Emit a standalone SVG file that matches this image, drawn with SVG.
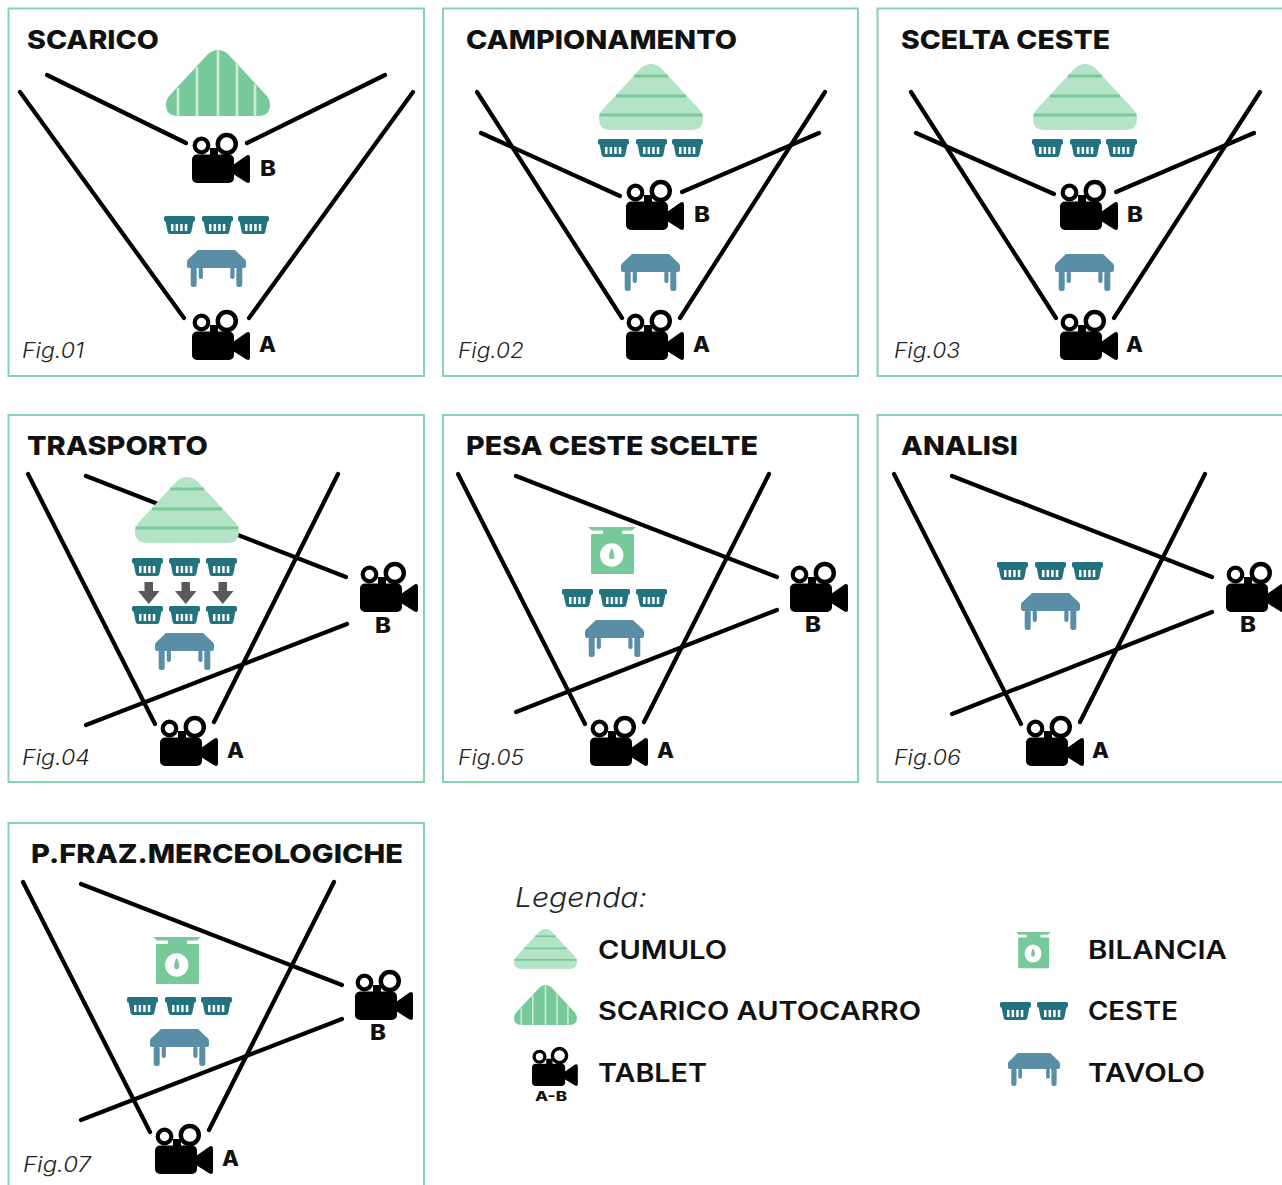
<svg xmlns="http://www.w3.org/2000/svg" xmlns:xlink="http://www.w3.org/1999/xlink" width="1282" height="1185" viewBox="0 0 1282 1185">
<style>
.panel{fill:#fff;stroke:#86d3ab;stroke-width:2}
.t{font-family:Inter,"Liberation Sans",sans-serif;font-weight:800;font-size:26px;fill:#111}
.f{font-family:Inter,"Open Sans",sans-serif;font-weight:300;font-style:italic;font-size:21px;fill:#222}
.c{font-family:Inter,"Liberation Sans",sans-serif;font-weight:800;font-size:21px;fill:#111}
.l{font-family:Inter,"Liberation Sans",sans-serif;font-weight:600;font-size:26px;fill:#111}
#conn line{stroke:#000;stroke-width:4.200;stroke-linecap:round}
</style>
<defs>
<g id="cam">
<circle cx="9.500" cy="12.500" r="6.800" fill="none" stroke="#000" stroke-width="4.200"/>
<circle cx="34.800" cy="11" r="9" fill="none" stroke="#000" stroke-width="4.400"/>
<rect x="18" y="15" width="8" height="9" fill="#000"/>
<rect x="0" y="21.500" width="42" height="28.500" rx="5" fill="#000"/>
<path d="M41,32 L54.500,22.500 Q58,21 58,25 L58,47 Q58,51 54.500,49.500 L41,41 Z" fill="#000"/>
</g>
<path id="tri" d="M42,4 Q52,-4 62,4 L100,45 Q104,49.500 104,54.500 Q104,66 92,66 L12,66 Q0,66 0,54.500 Q0,49.500 4,45 Z"/>
<g id="pile">
<use href="#tri" fill="#b5e3c8"/>
<g stroke="#7acb9c" stroke-width="3"><line x1="35" y1="12" x2="69" y2="12"/><line x1="17" y1="32" x2="87" y2="32"/><line x1="0.500" y1="51" x2="103.500" y2="51"/></g>
</g>
<g id="truck">
<use href="#tri" fill="#78c99a"/>
<g stroke="#c9ebd6" stroke-width="2.600"><line x1="12" y1="38" x2="12" y2="66"/><line x1="31" y1="17" x2="31" y2="66"/><line x1="52" y1="0" x2="52" y2="66"/><line x1="71" y1="13" x2="71" y2="66"/><line x1="89" y1="34" x2="89" y2="66"/></g>
</g>
<g id="basket">
<rect x="0" y="0" width="31" height="5.500" rx="1.500" fill="#23727f"/>
<path d="M1.500,5 H29.500 L27.300,16 Q26.800,18 25,18 H6 Q4.200,18 3.700,16 Z" fill="#23727f"/>
<g fill="#fff"><rect x="7" y="8" width="2.500" height="7"/><rect x="11.600" y="8" width="2.500" height="7"/><rect x="16.200" y="8" width="2.500" height="7"/><rect x="20.800" y="8" width="2.500" height="7"/></g>
</g>
<g id="table" fill="#5a8ea6">
<path d="M11,0 H48 L58,9.500 Q59,10.500 59,12 V16 Q59,18 57,18 H2 Q0,18 0,16 V12 Q0,10.500 1,9.500 Z"/>
<rect x="3.700" y="17" width="6" height="20" rx="2.500"/><rect x="49.300" y="17" width="6" height="20" rx="2.500"/>
<rect x="11.700" y="17" width="4.200" height="12" rx="2"/><rect x="43.300" y="17" width="4.200" height="12" rx="2"/>
</g>
<g id="scale">
<path d="M0,0 H48 L44,3.500 H34 V7 H45 Q46,7 46,8 V46 Q46,47 45,47 H4 Q3,47 3,46 V8 Q3,7 4,7 H15 V3.500 H4 Z" fill="#78c99a"/>
<circle cx="23.700" cy="28" r="11.700" fill="#fff"/>
<path d="M23.700,20.500 Q26.700,27 26.300,29.500 A2.600,2.600 0 0 1 21.100,29.500 Q20.700,27 23.700,20.500 Z" fill="#78c99a"/>
</g>
<path id="arrow" d="M6.500,0 H15 V9 H21.500 L10.750,22 L0,9 H6.500 Z" fill="#595959"/>
</defs>
<rect width="1282" height="1185" fill="#fff"/>
<g id="panels">
<rect class="panel" x="8.500" y="8.500" width="415.500" height="367.500"/>
<rect class="panel" x="443" y="8.500" width="415" height="367.500"/>
<rect class="panel" x="877.500" y="8.500" width="420" height="367.500"/>
<rect class="panel" x="8.500" y="415" width="415.500" height="367"/>
<rect class="panel" x="443" y="415" width="415" height="367"/>
<rect class="panel" x="877.500" y="415" width="420" height="367"/>
<rect class="panel" x="8.500" y="823" width="415.500" height="380"/>
</g>
<g id="conn">
<line x1="20" y1="92" x2="184" y2="318"/><line x1="413" y1="92" x2="249" y2="318"/><line x1="47" y1="75" x2="186" y2="143"/><line x1="385" y1="75" x2="247" y2="143"/>
<line x1="477" y1="92" x2="622" y2="318"/><line x1="825" y1="92" x2="680" y2="318"/><line x1="481" y1="133" x2="620" y2="196"/><line x1="819" y1="133" x2="682" y2="192"/>
<line x1="911" y1="92" x2="1056" y2="318"/><line x1="1260" y1="92" x2="1114" y2="318"/><line x1="916" y1="133" x2="1054" y2="194"/><line x1="1254" y1="133" x2="1116" y2="192"/>
<line x1="28" y1="474" x2="155" y2="724"/><line x1="338" y1="474" x2="214" y2="722"/><line x1="86" y1="476" x2="346" y2="577"/><line x1="86" y1="725" x2="347" y2="624"/>
<line x1="458" y1="474" x2="585" y2="724"/><line x1="769" y1="474" x2="644" y2="722"/><line x1="516" y1="476" x2="777" y2="577"/><line x1="516" y1="712" x2="777" y2="610"/>
<line x1="894" y1="474" x2="1021" y2="724"/><line x1="1205" y1="474" x2="1080" y2="722"/><line x1="952" y1="476" x2="1212" y2="577"/><line x1="952" y1="714" x2="1212" y2="612"/>
<line x1="23" y1="882" x2="150" y2="1132"/><line x1="334" y1="882" x2="209" y2="1130"/><line x1="81" y1="884" x2="342" y2="985"/><line x1="81" y1="1120" x2="342" y2="1019"/>
</g>
<g id="fig01">
<text class="t" x="27" y="49" textLength="132" lengthAdjust="spacingAndGlyphs">SCARICO</text>
<use href="#truck" x="166" y="50"/>
<g id="fig01-camB"><use href="#cam" x="192" y="133"/><text class="c" x="260" y="176" textLength="16" lengthAdjust="spacingAndGlyphs">B</text></g>
<use href="#basket" x="164" y="216"/><use href="#basket" x="202" y="216"/><use href="#basket" x="238" y="216"/>
<use href="#table" x="187" y="250"/>
<g id="fig01-camA"><use href="#cam" x="192" y="310"/><text class="c" x="259" y="352" textLength="17" lengthAdjust="spacingAndGlyphs">A</text></g>
<text class="f" x="22" y="358" textLength="62" lengthAdjust="spacingAndGlyphs">Fig.01</text>
</g>
<g id="fig02">
<text class="t" x="466" y="49" textLength="271" lengthAdjust="spacingAndGlyphs">CAMPIONAMENTO</text>
<use href="#pile" x="599" y="64"/>
<use href="#basket" x="598" y="139"/><use href="#basket" x="636" y="139"/><use href="#basket" x="672" y="139"/>
<g id="fig02-camB"><use href="#cam" x="626" y="180"/><text class="c" x="694" y="222" textLength="16" lengthAdjust="spacingAndGlyphs">B</text></g>
<use href="#table" x="621" y="254"/>
<g id="fig02-camA"><use href="#cam" x="626" y="310"/><text class="c" x="693" y="352" textLength="17" lengthAdjust="spacingAndGlyphs">A</text></g>
<text class="f" x="458" y="358" textLength="66" lengthAdjust="spacingAndGlyphs">Fig.02</text>
</g>
<g id="fig03">
<text class="t" x="901" y="49" textLength="209" lengthAdjust="spacingAndGlyphs">SCELTA CESTE</text>
<use href="#pile" x="1033" y="64"/>
<use href="#basket" x="1032" y="139"/><use href="#basket" x="1070" y="139"/><use href="#basket" x="1106" y="139"/>
<g id="fig03-camB"><use href="#cam" x="1060" y="180"/><text class="c" x="1127" y="222" textLength="16" lengthAdjust="spacingAndGlyphs">B</text></g>
<use href="#table" x="1055" y="254"/>
<g id="fig03-camA"><use href="#cam" x="1060" y="310"/><text class="c" x="1126" y="352" textLength="17" lengthAdjust="spacingAndGlyphs">A</text></g>
<text class="f" x="894" y="358" textLength="66" lengthAdjust="spacingAndGlyphs">Fig.03</text>
</g>
<g id="fig04">
<text class="t" x="27" y="455" textLength="181" lengthAdjust="spacingAndGlyphs">TRASPORTO</text>
<use href="#pile" x="135" y="477"/>
<use href="#basket" x="132" y="558"/><use href="#basket" x="169" y="558"/><use href="#basket" x="206" y="558"/>
<use href="#arrow" x="138" y="582"/><use href="#arrow" x="175" y="582"/><use href="#arrow" x="212" y="582"/>
<use href="#basket" x="132" y="606"/><use href="#basket" x="169" y="606"/><use href="#basket" x="206" y="606"/>
<use href="#table" x="155" y="633"/>
<g id="fig04-camB"><use href="#cam" x="360" y="562"/><text class="c" x="375" y="633" textLength="16" lengthAdjust="spacingAndGlyphs">B</text></g>
<g id="fig04-camA"><use href="#cam" x="160" y="716"/><text class="c" x="227" y="758" textLength="17" lengthAdjust="spacingAndGlyphs">A</text></g>
<text class="f" x="22" y="765" textLength="68" lengthAdjust="spacingAndGlyphs">Fig.04</text>
</g>
<g id="fig05">
<text class="t" x="466" y="455" textLength="292" lengthAdjust="spacingAndGlyphs">PESA CESTE SCELTE</text>
<use href="#scale" x="588" y="527"/>
<use href="#basket" x="562" y="589"/><use href="#basket" x="599" y="589"/><use href="#basket" x="636" y="589"/>
<use href="#table" x="585" y="620"/>
<g id="fig05-camB"><use href="#cam" x="790" y="562"/><text class="c" x="805" y="632" textLength="16" lengthAdjust="spacingAndGlyphs">B</text></g>
<g id="fig05-camA"><use href="#cam" x="590" y="716"/><text class="c" x="657" y="758" textLength="17" lengthAdjust="spacingAndGlyphs">A</text></g>
<text class="f" x="458" y="765" textLength="66" lengthAdjust="spacingAndGlyphs">Fig.05</text>
</g>
<g id="fig06">
<text class="t" x="901" y="455" textLength="117" lengthAdjust="spacingAndGlyphs">ANALISI</text>
<use href="#basket" x="997" y="562"/><use href="#basket" x="1035" y="562"/><use href="#basket" x="1072" y="562"/>
<use href="#table" x="1021" y="593"/>
<g id="fig06-camB"><use href="#cam" x="1226" y="562"/><text class="c" x="1240" y="632" textLength="16" lengthAdjust="spacingAndGlyphs">B</text></g>
<g id="fig06-camA"><use href="#cam" x="1026" y="716"/><text class="c" x="1092" y="758" textLength="17" lengthAdjust="spacingAndGlyphs">A</text></g>
<text class="f" x="894" y="765" textLength="67" lengthAdjust="spacingAndGlyphs">Fig.06</text>
</g>
<g id="fig07">
<text class="t" x="31" y="863" textLength="372" lengthAdjust="spacingAndGlyphs">P.FRAZ.MERCEOLOGICHE</text>
<use href="#scale" x="153" y="937"/>
<use href="#basket" x="127" y="997"/><use href="#basket" x="165" y="997"/><use href="#basket" x="201" y="997"/>
<use href="#table" x="150" y="1029"/>
<g id="fig07-camB"><use href="#cam" x="355" y="970"/><text class="c" x="370" y="1040" textLength="16" lengthAdjust="spacingAndGlyphs">B</text></g>
<g id="fig07-camA"><use href="#cam" x="155" y="1124"/><text class="c" x="222" y="1166" textLength="17" lengthAdjust="spacingAndGlyphs">A</text></g>
<text class="f" x="23" y="1172" textLength="68" lengthAdjust="spacingAndGlyphs">Fig.07</text>
</g>
<g id="legend">
<text class="f" style="font-size:27px" x="515" y="907" textLength="132" lengthAdjust="spacingAndGlyphs">Legenda:</text>
<use href="#pile" transform="translate(514,929) scale(.606)"/>
<text class="l" x="598" y="959" textLength="129" lengthAdjust="spacingAndGlyphs">CUMULO</text>
<use href="#truck" transform="translate(514,985) scale(.606)"/>
<text class="l" x="598" y="1020" textLength="323" lengthAdjust="spacingAndGlyphs">SCARICO AUTOCARRO</text>
<use href="#cam" transform="translate(532,1047) scale(.79,.78)"/>
<text class="c" style="font-size:13px" x="535" y="1101" textLength="32" lengthAdjust="spacingAndGlyphs">A-B</text>
<text class="l" x="598" y="1082" textLength="109" lengthAdjust="spacingAndGlyphs">TABLET</text>
<use href="#scale" transform="translate(1016,932) scale(.72,.77)"/>
<text class="l" x="1088" y="959" textLength="139" lengthAdjust="spacingAndGlyphs">BILANCIA</text>
<use href="#basket" x="1000" y="1002"/><use href="#basket" x="1037" y="1002"/>
<text class="l" x="1088" y="1020" textLength="90" lengthAdjust="spacingAndGlyphs">CESTE</text>
<use href="#table" transform="translate(1008,1053) scale(.88,.89)"/>
<text class="l" x="1088" y="1082" textLength="117" lengthAdjust="spacingAndGlyphs">TAVOLO</text>
</g>
</svg>
